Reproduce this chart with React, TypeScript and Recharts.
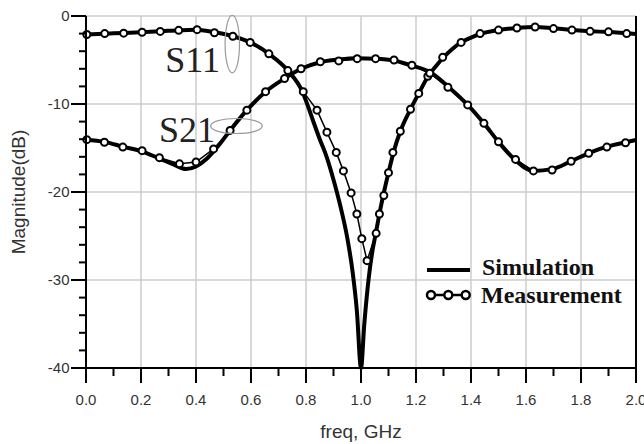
import { LineChart, Line, XAxis, YAxis, ReferenceLine, ReferenceDot } from "recharts"

// frequency in GHz, magnitude in dB
const simS11Freq = [0, 0.1, 0.2, 0.3, 0.4, 0.467, 0.534, 0.597, 0.665, 0.734, 0.787, 0.81, 0.825, 0.85, 0.875, 0.9, 0.925, 0.95, 0.97, 0.985, 1.0, 1.012, 1.028, 1.04, 1.055, 1.07, 1.085, 1.1, 1.12, 1.143, 1.18, 1.21, 1.243, 1.27, 1.297, 1.33, 1.364, 1.4, 1.433, 1.5, 1.567, 1.633, 1.7, 1.767, 1.833, 1.9, 2.0]
const simS11Mag = [-2.1, -1.97, -1.85, -1.68, -1.55, -1.85, -2.3, -3.0, -4.3, -6.2, -8.6, -10.5, -11.85, -14.0, -16.0, -18.6, -21.6, -25.2, -29.2, -33.5, -40, -35, -29.8, -27.0, -24.5, -22.0, -19.8, -17.8, -15.3, -13.1, -10.6, -8.8, -6.9, -5.8, -4.8, -3.8, -3.0, -2.45, -2.05, -1.6, -1.36, -1.25, -1.4, -1.58, -1.72, -1.83, -2.05]

const simS21Freq = [0, 0.067, 0.134, 0.2, 0.267, 0.32, 0.364, 0.4, 0.44, 0.48, 0.524, 0.585, 0.653, 0.722, 0.782, 0.852, 0.919, 0.986, 1.053, 1.12, 1.18, 1.255, 1.316, 1.388, 1.447, 1.5, 1.562, 1.627, 1.695, 1.764, 1.828, 1.894, 1.962, 2.0]
const simS21Mag = [-14.05, -14.3, -14.85, -15.35, -16.2, -16.9, -17.4, -17.1, -16.2, -14.8, -13.0, -10.7, -8.6, -7.1, -6.0, -5.25, -4.95, -4.8, -4.85, -5.05, -5.6, -6.45, -8.0, -10.1, -12.2, -14.3, -16.4, -17.6, -17.4, -16.5, -15.6, -14.85, -14.35, -14.1]

const measS11Freq = [0.003, 0.068, 0.137, 0.204, 0.27, 0.337, 0.404, 0.467, 0.534, 0.597, 0.665, 0.734, 0.79, 0.84, 0.876, 0.91, 0.936, 0.964, 0.985, 1.003, 1.022, 1.055, 1.067, 1.083, 1.1, 1.116, 1.143, 1.18, 1.21, 1.243, 1.297, 1.364, 1.433, 1.5, 1.567, 1.633, 1.7, 1.767, 1.833, 1.9, 1.966]
const measS11Mag = [-2.1, -2.0, -1.95, -1.85, -1.75, -1.63, -1.55, -1.9, -2.3, -3.0, -4.3, -6.2, -8.6, -10.7, -13.2, -15.5, -17.6, -20.1, -22.5, -25.3, -27.8, -24.7, -22.5, -20.4, -17.8, -15.5, -13.1, -10.6, -8.8, -6.85, -4.7, -3.0, -2.0, -1.6, -1.36, -1.25, -1.43, -1.6, -1.74, -1.8, -2.0]

const measS21Freq = [0.003, 0.067, 0.134, 0.204, 0.267, 0.34, 0.4, 0.464, 0.524, 0.585, 0.653, 0.722, 0.782, 0.852, 0.919, 0.986, 1.053, 1.12, 1.185, 1.25, 1.316, 1.388, 1.447, 1.5, 1.562, 1.627, 1.695, 1.764, 1.828, 1.894, 1.962]
const measS21Mag = [-14.05, -14.35, -14.9, -15.3, -16.1, -16.8, -16.6, -15.1, -13.0, -10.7, -8.6, -7.1, -6.0, -5.2, -5.1, -4.85, -4.85, -5.0, -5.6, -6.5, -8.1, -10.1, -12.2, -14.3, -16.3, -17.6, -17.5, -16.5, -15.6, -14.9, -14.4]

const xTicks = [0, 0.1, 0.2, 0.3, 0.4, 0.5, 0.6, 0.7, 0.8, 0.9, 1.0, 1.1, 1.2, 1.3, 1.4, 1.5, 1.6, 1.7, 1.8, 1.9, 2.0]
const yTicks = [0, -2, -4, -6, -8, -10, -12, -14, -16, -18, -20, -22, -24, -26, -28, -30, -32, -34, -36, -38, -40]
const xGrid = [0.2, 0.4, 0.6, 0.8, 1.0, 1.2, 1.4, 1.6, 1.8]
const yGrid = [0, -10, -20, -30]

const X_MIN = 0
const X_MAX = 2
const Y_MIN = -40
const Y_MAX = 0

const toPoints = (f: number[], m: number[]) => f.map((x, i) => ({ x, y: m[i] }))

// plot box (chart margins + axis sizes)
const PLOT_L = 86
const PLOT_T = 16
const PLOT_W = 550
const PLOT_H = 352

const isMajorX = (v: number) => Math.round(v * 10) % 2 === 0
const isMajorY = (v: number) => v % 10 === 0

const GRID = "#cdcdcd"
const AXIS = "#000"
const SANS = "'Liberation Sans', Arial, sans-serif"
const SERIF = "'Liberation Serif', 'Times New Roman', serif"

function XTick(props: any) {
  const { x, y, payload } = props
  const v = payload.value as number
  if (!isMajorX(v)) return <g />
  return (
    <text x={x} y={y + 37} textAnchor="middle" fontSize={15} fill="#333" fontFamily={SANS}>
      {v.toFixed(1)}
    </text>
  )
}

function YTick(props: any) {
  const { x, y, payload } = props
  const v = payload.value as number
  if (!isMajorY(v)) return <g />
  return (
    <text x={x - 16.5} y={y + 5} textAnchor="end" fontSize={15} fill="#333" fontFamily={SANS}>
      {v}
    </text>
  )
}

// axis frame with major/minor tick marks, drawn over the chart
function AxisFrame() {
  const bottom = PLOT_T + PLOT_H
  const right = PLOT_L + PLOT_W
  return (
    <svg width={644} height={444} style={{ position: "absolute", left: 0, top: 0, pointerEvents: "none" }}>
      <line x1={PLOT_L} x2={PLOT_L} y1={PLOT_T} y2={bottom} stroke={AXIS} strokeWidth={2} />
      <line x1={PLOT_L} x2={right} y1={bottom} y2={bottom} stroke={AXIS} strokeWidth={2} />
      <line x1={right} x2={right} y1={PLOT_T} y2={bottom} stroke={AXIS} strokeWidth={2} />
      {xTicks.map(v => {
        const px = PLOT_L + ((v - X_MIN) / (X_MAX - X_MIN)) * PLOT_W
        return <line key={"tx" + v} x1={px} x2={px} y1={bottom} y2={bottom + (isMajorX(v) ? 15 : 8)} stroke={AXIS} strokeWidth={2} />
      })}
      {yTicks.map(v => {
        const py = PLOT_T + ((Y_MAX - v) / (Y_MAX - Y_MIN)) * PLOT_H
        return <line key={"ty" + v} x1={PLOT_L} x2={PLOT_L - (isMajorY(v) ? 15 : 7)} y1={py} y2={py} stroke={AXIS} strokeWidth={2} />
      })}
    </svg>
  )
}

function Annotation({ cx, cy, rx, ry, label, dx, dy }: any) {
  return (
    <g>
      <ellipse cx={cx} cy={cy} rx={rx} ry={ry} fill="none" stroke="#999" strokeWidth={1.2} />
      <text x={cx + dx} y={cy + dy} fontSize={36} fill="#222" fontFamily={SERIF}>
        {label}
      </text>
    </g>
  )
}

function LegendBox() {
  return (
    <svg width={220} height={64} style={{ position: "absolute", left: 420, top: 250 }}>
      <line x1={7} x2={50} y1={20} y2={20} stroke="#000" strokeWidth={4} />
      <text x={62} y={25} fontSize={24} fontWeight="bold" fontFamily={SERIF} fill="#111">Simulation</text>
      <line x1={7} x2={50} y1={45} y2={45} stroke="#000" strokeWidth={2.5} />
      {[11, 28.3, 45.7].map(cx => (
        <circle key={cx} cx={cx} cy={45} r={4} fill="#fff" stroke="#000" strokeWidth={2.5} />
      ))}
      <text x={61} y={53} fontSize={24} fontWeight="bold" fontFamily={SERIF} fill="#111">Measurement</text>
    </svg>
  )
}

export default function App() {
  return (
    <div style={{ position: "absolute", left: 0, top: 0, width: 644, height: 444, background: "#fff" }}>
      <LineChart width={644} height={444} margin={{ top: PLOT_T, right: 644 - PLOT_L - PLOT_W, bottom: 0, left: 0 }}>
        <XAxis
          dataKey="x"
          type="number"
          domain={[X_MIN, X_MAX]}
          ticks={xTicks}
          interval={0}
          tickSize={0}
          tickMargin={0}
          tick={XTick}
          tickLine={false}
          axisLine={false}
          height={444 - PLOT_T - PLOT_H}
          label={{ value: "freq, GHz", position: "insideBottom", offset: 6, fontSize: 19, fill: "#333", fontFamily: SANS }}
        />
        <YAxis
          type="number"
          domain={[Y_MIN, Y_MAX]}
          ticks={yTicks}
          interval={0}
          tickSize={0}
          tickMargin={0}
          tick={YTick}
          tickLine={false}
          axisLine={false}
          width={PLOT_L}
          label={{ value: "Magnitude(dB)", angle: -90, position: "insideLeft", offset: 18, fontSize: 19, fill: "#333", fontFamily: SANS, style: { textAnchor: "middle" } }}
        />
        {xGrid.map(v => (
          <ReferenceLine key={"gx" + v} x={v} stroke={GRID} strokeWidth={1.5} />
        ))}
        {yGrid.map(v => (
          <ReferenceLine key={"gy" + v} y={v} stroke={GRID} strokeWidth={1.5} />
        ))}
        <Line
          data={toPoints(simS11Freq, simS11Mag)}
          dataKey="y"
          type="monotone"
          stroke="#000"
          strokeWidth={4}
          dot={false}
          isAnimationActive={false}
        />
        <Line
          data={toPoints(simS21Freq, simS21Mag)}
          dataKey="y"
          type="monotone"
          stroke="#000"
          strokeWidth={4}
          dot={false}
          isAnimationActive={false}
        />
        <Line
          data={toPoints(measS11Freq, measS11Mag)}
          dataKey="y"
          type="linear"
          stroke="#000"
          strokeWidth={1.5}
          dot={{ r: 3.5, stroke: "#000", strokeWidth: 2, fill: "#fff" }}
          isAnimationActive={false}
        />
        <Line
          data={toPoints(measS21Freq, measS21Mag)}
          dataKey="y"
          type="linear"
          stroke="#000"
          strokeWidth={1.5}
          dot={{ r: 3.5, stroke: "#000", strokeWidth: 2, fill: "#fff" }}
          isAnimationActive={false}
        />
        <ReferenceDot
          x={0.532}
          y={-3.19}
          shape={(p: any) => <Annotation {...p} rx={7.2} ry={28.8} label="S11" dx={-67} dy={28} />}
        />
        <ReferenceDot
          x={0.547}
          y={-12.5}
          shape={(p: any) => <Annotation {...p} rx={25.8} ry={7.5} label="S21" dx={-77.5} dy={16} />}
        />
      </LineChart>
      <AxisFrame />
      <LegendBox />
    </div>
  )
}
